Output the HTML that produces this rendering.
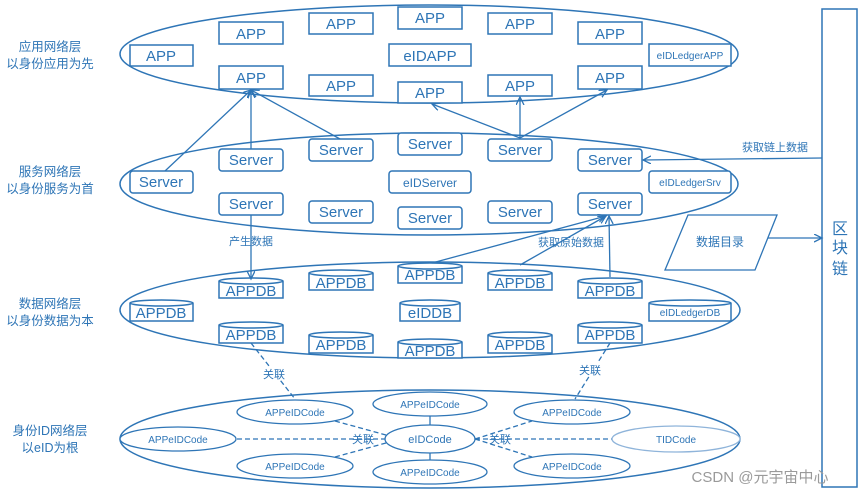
<!DOCTYPE html>
<html><head><meta charset="utf-8"><style>
body{margin:0;background:#fff}
svg text{font-family:"Liberation Sans","Noto Sans CJK SC",sans-serif;fill:#2e75b6}
</style></head><body>
<svg width="861" height="494" viewBox="0 0 861 494" xmlns="http://www.w3.org/2000/svg">
<defs><marker id="a" markerWidth="10" markerHeight="10" refX="8" refY="4" orient="auto" markerUnits="userSpaceOnUse"><path d="M0,0 L8,4 L0,8" fill="none" stroke="#2e75b6" stroke-width="1.3"/></marker></defs>
<g fill="none" stroke="#2e75b6" stroke-width="1.5">
<ellipse cx="429" cy="54" rx="309" ry="49"/>
<ellipse cx="429" cy="184" rx="309" ry="51"/>
<ellipse cx="430" cy="310" rx="310" ry="48"/>
<ellipse cx="430" cy="439" rx="310" ry="49"/>
<rect x="822" y="9" width="35" height="478"/>
</g>
<g fill="#fff" stroke="#2e75b6" stroke-width="1.5">
<rect x="130" y="45" width="63" height="21"/><rect x="219" y="22" width="64" height="22"/><rect x="219" y="66" width="64" height="23"/>
<rect x="309" y="13" width="64" height="21"/><rect x="309" y="75" width="64" height="21"/><rect x="398" y="7" width="64" height="22"/>
<rect x="389" y="44" width="82" height="22"/><rect x="398" y="82" width="64" height="21"/><rect x="488" y="13" width="64" height="21"/>
<rect x="488" y="75" width="64" height="21"/><rect x="578" y="22" width="64" height="22"/><rect x="578" y="66" width="64" height="23"/>
<rect x="649" y="44" width="82" height="22"/>
</g>
<g fill="#fff" stroke="#2e75b6" stroke-width="1.5">
<rect x="130" y="171" width="63" height="22" rx="3"/><rect x="219" y="149" width="64" height="22" rx="3"/><rect x="219" y="193" width="64" height="22" rx="3"/>
<rect x="309" y="139" width="64" height="22" rx="3"/><rect x="309" y="201" width="64" height="22" rx="3"/><rect x="398" y="133" width="64" height="22" rx="3"/>
<rect x="389" y="171" width="82" height="22" rx="3"/><rect x="398" y="207" width="64" height="22" rx="3"/><rect x="488" y="139" width="64" height="22" rx="3"/>
<rect x="488" y="201" width="64" height="22" rx="3"/><rect x="578" y="149" width="64" height="22" rx="3"/><rect x="578" y="193" width="64" height="22" rx="3"/>
<rect x="649" y="171" width="82" height="22" rx="3"/>
</g>
<g font-size="15" text-anchor="middle">
<text x="161" y="61">APP</text><text x="251" y="39">APP</text><text x="251" y="83">APP</text><text x="341" y="29">APP</text><text x="341" y="91">APP</text>
<text x="430" y="23">APP</text><text x="430" y="61">eIDAPP</text><text x="430" y="98">APP</text><text x="520" y="29">APP</text><text x="520" y="91">APP</text>
<text x="610" y="39">APP</text><text x="610" y="83">APP</text>
<text x="161" y="187">Server</text><text x="251" y="165">Server</text><text x="251" y="209">Server</text><text x="341" y="155">Server</text><text x="341" y="217">Server</text>
<text x="430" y="149">Server</text><text x="520" y="155">Server</text><text x="520" y="217">Server</text><text x="430" y="223">Server</text>
<text x="610" y="165">Server</text><text x="610" y="209">Server</text>
</g>
<g font-size="10" text-anchor="middle"><text x="690" y="59">eIDLedgerAPP</text><text x="690" y="186">eIDLedgerSrv</text><text x="430" y="187" font-size="12">eIDServer</text></g>
<!-- cylinders -->
<g fill="#fff" stroke="#2e75b6" stroke-width="1.5">
<path d="M130,303 v18 h63 v-18 M130,303 a31.5,3 0 0 1 63,0 a31.5,3 0 0 1 -63,0"/>
<path d="M219,281 v17 h64 v-17 M219,281 a32,3 0 0 1 64,0 a32,3 0 0 1 -64,0"/>
<path d="M219,325 v18 h64 v-18 M219,325 a32,3 0 0 1 64,0 a32,3 0 0 1 -64,0"/>
<path d="M309,273 v17 h64 v-17 M309,273 a32,3 0 0 1 64,0 a32,3 0 0 1 -64,0"/>
<path d="M309,335 v18 h64 v-18 M309,335 a32,3 0 0 1 64,0 a32,3 0 0 1 -64,0"/>
<path d="M398,266 v17 h64 v-17 M398,266 a32,3 0 0 1 64,0 a32,3 0 0 1 -64,0"/>
<path d="M400,303 v18 h60 v-18 M400,303 a30,3 0 0 1 60,0 a30,3 0 0 1 -60,0"/>
<path d="M398,342 v16 h64 v-16 M398,342 a32,3 0 0 1 64,0 a32,3 0 0 1 -64,0"/>
<path d="M488,273 v17 h64 v-17 M488,273 a32,3 0 0 1 64,0 a32,3 0 0 1 -64,0"/>
<path d="M488,335 v18 h64 v-18 M488,335 a32,3 0 0 1 64,0 a32,3 0 0 1 -64,0"/>
<path d="M578,281 v17 h64 v-17 M578,281 a32,3 0 0 1 64,0 a32,3 0 0 1 -64,0"/>
<path d="M578,325 v18 h64 v-18 M578,325 a32,3 0 0 1 64,0 a32,3 0 0 1 -64,0"/>
<path d="M649,303 v18 h82 v-18 M649,303 a41,3 0 0 1 82,0 a41,3 0 0 1 -82,0"/>
</g>
<g font-size="15" text-anchor="middle">
<text x="161" y="318">APPDB</text><text x="251" y="296">APPDB</text><text x="251" y="340">APPDB</text><text x="341" y="288">APPDB</text><text x="341" y="350">APPDB</text>
<text x="430" y="280">APPDB</text><text x="430" y="318">eIDDB</text><text x="430" y="356">APPDB</text><text x="520" y="288">APPDB</text><text x="520" y="350">APPDB</text>
<text x="610" y="296">APPDB</text><text x="610" y="340">APPDB</text>
</g>
<text x="690" y="316" font-size="10" text-anchor="middle">eIDLedgerDB</text>
<!-- arrows -->
<g stroke="#2e75b6" stroke-width="1.3" fill="none" marker-end="url(#a)">
<line x1="165" y1="171" x2="251" y2="90"/><line x1="251" y1="149" x2="251" y2="90"/><line x1="340" y1="139" x2="251" y2="90"/>
<line x1="520" y1="138" x2="432" y2="104"/><line x1="520" y1="138" x2="520" y2="97"/><line x1="520" y1="138" x2="607" y2="90"/>
<line x1="822" y1="158" x2="643" y2="160"/>
<line x1="251" y1="215" x2="251" y2="279"/>
<line x1="432" y1="263" x2="606" y2="216"/><line x1="520" y1="265" x2="606" y2="216"/><line x1="610" y1="277" x2="609" y2="216"/>
<line x1="766" y1="238" x2="822" y2="238"/>
</g>
<path d="M688,215 H777 L755,270 H665 Z" fill="#fff" stroke="#2e75b6" stroke-width="1.3"/>
<g font-size="12" text-anchor="middle">
<text x="720" y="246">数据目录</text>
<text x="775" y="151" font-size="11">获取链上数据</text>
<text x="251" y="245" font-size="11">产生数据</text>
<text x="571" y="246" font-size="11">获取原始数据</text>
<text x="840" y="234" font-size="16">区</text><text x="840" y="253" font-size="16">块</text><text x="840" y="274" font-size="16">链</text>
</g>
<!-- left labels -->
<g font-size="12.5" text-anchor="middle">
<text x="50" y="51">应用网络层</text><text x="50" y="68">以身份应用为先</text>
<text x="50" y="176">服务网络层</text><text x="50" y="193">以身份服务为首</text>
<text x="50" y="308">数据网络层</text><text x="50" y="325">以身份数据为本</text>
<text x="50" y="435">身份ID网络层</text><text x="50" y="452">以eID为根</text>
</g>
<!-- id layer -->
<g stroke="#2e75b6" stroke-width="1.3" fill="none" stroke-dasharray="5,3">
<line x1="251" y1="343" x2="295" y2="399"/><line x1="610" y1="343" x2="575" y2="399"/>
<line x1="237" y1="439" x2="385" y2="439"/><line x1="335" y1="421" x2="386" y2="435"/><line x1="335" y1="457" x2="386" y2="443"/>
<line x1="475" y1="439" x2="612" y2="439"/><line x1="475" y1="439" x2="532" y2="421"/><line x1="475" y1="439" x2="532" y2="457"/>
</g>
<g stroke="#2e75b6" stroke-width="1.3"><line x1="430" y1="416" x2="430" y2="425"/><line x1="430" y1="453" x2="430" y2="461"/></g>
<g fill="#fff" stroke="#2e75b6" stroke-width="1.3">
<ellipse cx="178" cy="439" rx="58" ry="12"/><ellipse cx="295" cy="412" rx="58" ry="12"/><ellipse cx="295" cy="466" rx="58" ry="12"/>
<ellipse cx="430" cy="404" rx="57" ry="12"/><ellipse cx="430" cy="439" rx="45" ry="14"/><ellipse cx="430" cy="472" rx="57" ry="12"/>
<ellipse cx="572" cy="412" rx="58" ry="12"/><ellipse cx="572" cy="466" rx="58" ry="12"/>
<ellipse cx="676" cy="439" rx="64" ry="13" stroke="#8fb4da"/>
</g>
<g font-size="10" text-anchor="middle">
<text x="178" y="443">APPeIDCode</text><text x="295" y="416">APPeIDCode</text><text x="295" y="470">APPeIDCode</text>
<text x="430" y="408">APPeIDCode</text><text x="430" y="443" font-size="11">eIDCode</text><text x="430" y="476">APPeIDCode</text>
<text x="572" y="416">APPeIDCode</text><text x="572" y="470">APPeIDCode</text><text x="676" y="443">TIDCode</text>
</g>
<g font-size="11" text-anchor="middle">
<rect x="262" y="367" width="24" height="13" fill="#fff"/><text x="274" y="378">关联</text>
<rect x="578" y="363" width="24" height="13" fill="#fff"/><text x="590" y="374">关联</text>
<text x="363" y="443">关联</text><text x="500" y="443">关联</text>
</g>
<text x="760" y="482" font-size="15" text-anchor="middle" style="fill:#9a9a9a">CSDN @元宇宙中心</text>
</svg>
</body></html>
